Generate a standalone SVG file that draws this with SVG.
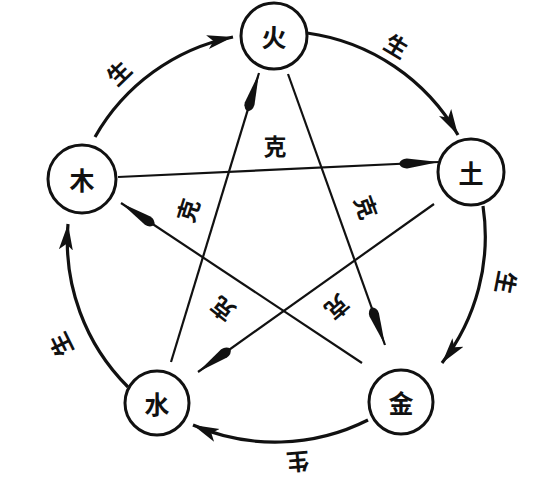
<svg xmlns="http://www.w3.org/2000/svg" width="546" height="484" viewBox="0 0 546 484">
<style>
.node circle{fill:#fff;stroke:#111;stroke-width:3}
.node text,.lbl{font-family:"Noto Sans CJK SC","Noto Sans CJK JP",sans-serif;fill:#111;text-anchor:middle;dominant-baseline:central;font-weight:700}
.node text{font-size:25px}
.lbl{font-size:23px}
.arc{fill:none;stroke:#111;stroke-width:3.2;marker-end:url(#ah)}
.ke{fill:none;stroke:#111;stroke-width:2.2;marker-end:url(#sp)}
</style>
<defs>
<marker id="ah" markerUnits="userSpaceOnUse" markerWidth="30" markerHeight="18" refX="26" refY="9" orient="auto" viewBox="0 0 30 18">
<path d="M0,2 L26,9 L0,16 L6,9 Z" fill="#111"/>
</marker>
<marker id="sp" markerUnits="userSpaceOnUse" markerWidth="42" markerHeight="14" refX="40" refY="7" orient="auto" viewBox="0 0 42 14">
<path d="M0,7 Q2,2 8,2 L40,7 L8,12 Q2,12 0,7 Z" fill="#111"/>
</marker>
</defs>
<rect width="546" height="484" fill="#fff"/>
<g id="connectors">
<path class="arc" d="M95,137 A206,206 0 0 1 233,37"/>
<path class="arc" d="M307,33 A206,206 0 0 1 458,135"/>
<path class="arc" d="M483,206 A206,206 0 0 1 442,363"/>
<path class="arc" d="M368,420 A206,206 0 0 1 193,425"/>
<path class="arc" d="M128,387 A206,206 0 0 1 68,224"/>
<path class="ke" d="M118,177 L439,162"/>
<path class="ke" d="M434,204 L198,372"/>
<path class="ke" d="M171,362 L259,73"/>
<path class="ke" d="M288,74 L385,345"/>
<path class="ke" d="M362,363 L121,203"/>
</g>
<g id="labels">
<text class="lbl" transform="rotate(-44 118 72)" x="118" y="72">生</text>
<text class="lbl" transform="rotate(31 397 45)" x="397" y="45">生</text>
<text class="lbl" transform="rotate(101 507 283)" x="507" y="283">生</text>
<text class="lbl" transform="rotate(175 298 463)" x="298" y="463">生</text>
<text class="lbl" transform="rotate(-116 60 345)" x="60" y="345">生</text>
<text class="lbl" x="275" y="145">克</text>
<text class="lbl" transform="rotate(-72 187 210)" x="187" y="210">克</text>
<text class="lbl" transform="rotate(70 367 207)" x="367" y="207">克</text>
<text class="lbl" transform="rotate(-142 222 310)" x="222" y="310">克</text>
<text class="lbl" transform="rotate(139 338 308)" x="338" y="308">克</text>
</g>
<g id="huo" class="node"><circle cx="274" cy="36" r="33"/><text x="274" y="36">火</text></g>
<g id="tu" class="node"><circle cx="471" cy="172" r="33"/><text x="471" y="172">土</text></g>
<g id="jin" class="node"><circle cx="401" cy="402" r="32"/><text x="401" y="402">金</text></g>
<g id="shui" class="node"><circle cx="157" cy="403" r="32"/><text x="157" y="403">水</text></g>
<g id="mu" class="node"><circle cx="82" cy="179" r="34"/><text x="82" y="179">木</text></g>
</svg>
